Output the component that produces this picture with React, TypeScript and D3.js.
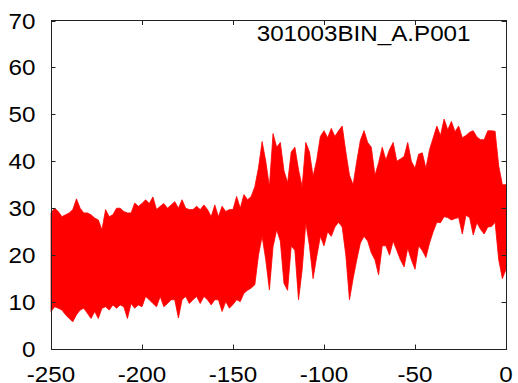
import * as d3 from "d3";
import { useRef, useEffect } from "react";

// sampling grid of the trace (time axis, every 2 units)
const sampleX: number[] = d3.range(-250, 1, 2);

// upper envelope of the trace
const upperEnv: number[] = [
  29, 30, 29.3, 28.2, 28.6, 29, 29.7, 32, 30, 29,
  29, 28.6, 27.9, 27.5, 25.4, 29.7, 28.2, 28.6, 30, 30,
  29.3, 29, 29, 31.1, 30.4, 31, 31.8, 31, 32.4, 29.7,
  30.4, 31, 30, 30.7, 31.4, 30, 31.8, 30, 29.7, 29.7,
  30.4, 29.7, 30.7, 29.7, 28.2, 30.7, 28.2, 30.4, 29.3, 29.7,
  29.7, 32.5, 30, 32.9, 31.8, 32.5, 34.6, 38.6, 44.2, 40,
  34.6, 45.9, 43, 44, 38, 35.4, 42, 43, 38.2, 34.6,
  44, 42, 36.8, 40.3, 45.3, 46.5, 45, 47, 45.3, 46.5,
  47.5, 42, 37, 35, 40, 44.5, 46.5, 44, 43, 37,
  39.7, 43, 40.3, 42.5, 44, 40, 40.5, 41, 44, 40,
  38.5, 41.5, 41.8, 38.5, 42.5, 45, 47.5, 45.5, 49, 46.7,
  48.5, 46.3, 47.5, 45, 45.5, 46.2, 46.5, 45.2, 44.6, 44.6,
  46.5, 46.5, 46.4, 39, 35, 35,
];

// lower envelope of the trace
const lowerEnv: number[] = [
  8, 9, 8.7, 8.3, 7.3, 6.5, 5.8, 7.3, 8.3, 8.7,
  7.6, 6.5, 8, 6.5, 8.7, 9, 8.3, 9.4, 8.7, 9.4,
  9, 6.5, 9.7, 8.7, 9.4, 9, 11.2, 10.5, 9.7, 9,
  11.2, 9, 9.7, 10.5, 10.5, 6.6, 10.5, 11.2, 9.7, 10.5,
  11.2, 9.7, 11.2, 10.5, 9.4, 10.5, 10.5, 8, 10.1, 8.7,
  9.5, 10.5, 10.1, 11.9, 12.5, 13, 13.7, 20, 24, 19,
  12.6, 21.8, 25.4, 23, 14, 12.5, 22, 21, 10.5, 16.9,
  26.9, 22, 15, 19.7, 24, 22, 25, 24, 26, 27,
  26, 20, 10.5, 15, 19, 22.6, 24, 23, 20.5, 19,
  15.8, 22, 22, 20, 23, 21, 19, 17.5, 21.5, 19,
  17, 22, 21, 19.5, 22.6, 25, 27, 26.9, 28.2, 28,
  27.5, 27.8, 28, 24.5, 28.5, 28, 24.3, 26.9, 25.5, 24.5,
  26, 26.1, 27, 19, 15, 17,
];

const xTicks: number[] = [-250, -200, -150, -100, -50, 0];
const yTicks: number[] = [0, 10, 20, 30, 40, 50, 60, 70];
const title = "301003BIN_A.P001";

export default function App() {
  const svgRef = useRef<SVGSVGElement | null>(null);

  useEffect(() => {
    const svg = d3.select(svgRef.current);
    svg.selectAll("*").remove();

    const left = 51, right = 506, top = 20.5, bottom = 349;
    const x = d3.scaleLinear().domain([-250, 0]).range([left, right]);
    const y = d3.scaleLinear().domain([0, 70]).range([bottom, top]);

    const rows = sampleX.map((v, i) => ({ v, hi: upperEnv[i], lo: lowerEnv[i] }));

    // the dense trace, as its filled envelope
    const area = d3.area<{ v: number; hi: number; lo: number }>()
      .x(d => x(d.v))
      .y0(d => y(d.lo))
      .y1(d => y(d.hi));

    svg.append("path").datum(rows).attr("d", area)
      .attr("fill", "#ff0000").attr("stroke", "#ff0000").attr("stroke-width", 0.8);

    // border with inward ticks on all four sides
    const g = svg.append("g").attr("stroke", "#222").attr("stroke-width", 1).attr("fill", "none");
    g.append("rect").attr("x", left + 0.5).attr("y", top).attr("width", right - left).attr("height", bottom - top + 0.5);
    const tl = 4.5;
    xTicks.forEach(t => {
      const px = Math.round(x(t)) + 0.5;
      g.append("line").attr("x1", px).attr("x2", px).attr("y1", bottom).attr("y2", bottom - tl);
      g.append("line").attr("x1", px).attr("x2", px).attr("y1", top).attr("y2", top + tl);
    });
    yTicks.forEach(t => {
      const py = Math.round(y(t)) + 0.5;
      g.append("line").attr("x1", left).attr("x2", left + tl).attr("y1", py).attr("y2", py);
      g.append("line").attr("x1", right).attr("x2", right - tl).attr("y1", py).attr("y2", py);
    });

    // labels are slightly wider than normal glyphs, so stretch them a bit
    const font = "'Liberation Sans', Arial, Helvetica, sans-serif";
    const label = (tx: number, ty: number, s: string, anchor: string) =>
      svg.append("text")
        .attr("transform", `translate(${tx},${ty}) scale(1.1,1)`)
        .attr("text-anchor", anchor)
        .attr("font-family", font)
        .attr("font-size", 22)
        .attr("fill", "#000")
        .text(s);

    yTicks.forEach(t => label(35.5, y(t) + 8, String(t), "end"));
    xTicks.forEach(t => label(x(t), 382, String(t), "middle"));
    label(470.5, 41.3, title, "end");
  }, []);

  return (
    <>
      <style>{"body{margin:0}"}</style>
      <svg ref={svgRef} width={518} height={383} style={{ display: "block" }} />
    </>
  );
}
